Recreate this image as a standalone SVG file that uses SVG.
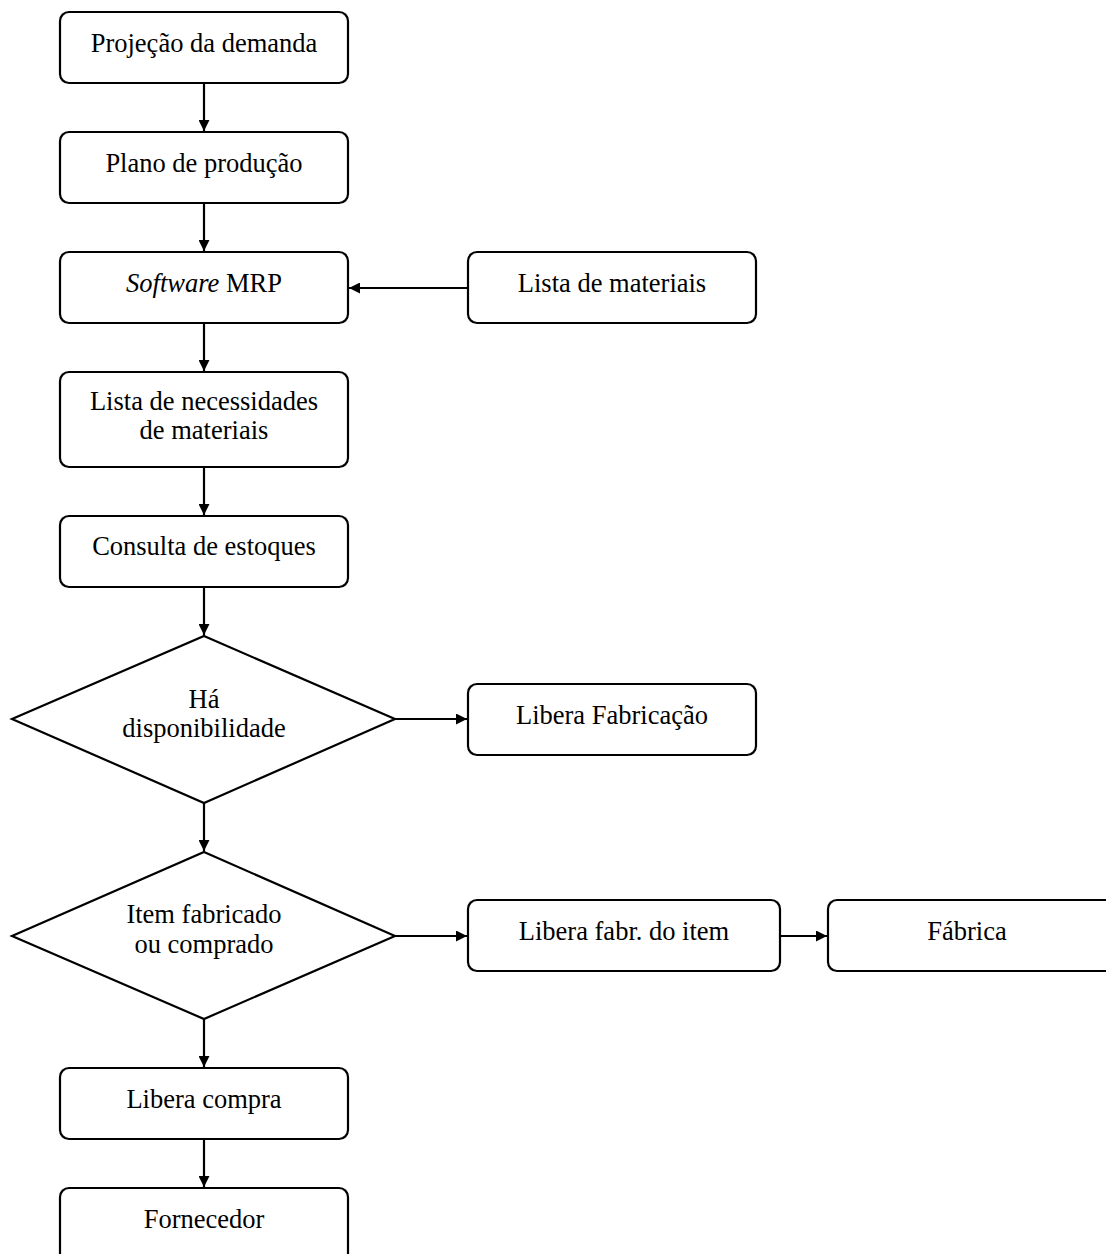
<svg xmlns="http://www.w3.org/2000/svg" width="1106" height="1254" viewBox="0 0 1106 1254">
  <style>
    .box { fill: #ffffff; stroke: #000000; stroke-width: 2.2; }
    .dia { fill: #ffffff; stroke: #000000; stroke-width: 2.2; stroke-linejoin: miter; }
    .lbl { font-family: "Liberation Serif", "Times New Roman", serif; font-size: 26.5px; fill: #000000; text-anchor: middle; }
    .edge { fill: none; stroke: #000000; stroke-width: 2.2; marker-end: url(#arrow); }
  </style>
  <defs>
    <marker id="arrow" viewBox="0 0 10 10" refX="10" refY="5" markerWidth="11" markerHeight="11" markerUnits="userSpaceOnUse" orient="auto">
      <path d="M0,0 L10,5 L0,10 z" fill="#000000"/>
    </marker>
  </defs>
  <rect width="1106" height="1254" fill="#ffffff"/>

  <g id="connectors">
    <line class="edge" x1="204" y1="83" x2="204" y2="131"/>
    <line class="edge" x1="204" y1="203" x2="204" y2="251"/>
    <line class="edge" x1="468" y1="288" x2="349" y2="288"/>
    <line class="edge" x1="204" y1="323" x2="204" y2="371"/>
    <line class="edge" x1="204" y1="467" x2="204" y2="515"/>
    <line class="edge" x1="204" y1="587" x2="204" y2="635"/>
    <line class="edge" x1="395" y1="719" x2="467" y2="719"/>
    <line class="edge" x1="204" y1="803" x2="204" y2="851"/>
    <line class="edge" x1="395" y1="936" x2="467" y2="936"/>
    <line class="edge" x1="780" y1="936" x2="827" y2="936"/>
    <line class="edge" x1="204" y1="1019" x2="204" y2="1067"/>
    <line class="edge" x1="204" y1="1139" x2="204" y2="1187"/>
  </g>

  <g id="projecao">
    <rect class="box" x="60" y="12" width="288" height="71" rx="9"/>
    <text class="lbl" x="204" y="52">Projeção da demanda</text>
  </g>
  <g id="plano">
    <rect class="box" x="60" y="132" width="288" height="71" rx="9"/>
    <text class="lbl" x="204" y="172">Plano de produção</text>
  </g>
  <g id="software">
    <rect class="box" x="60" y="252" width="288" height="71" rx="9"/>
    <text class="lbl" x="204" y="292"><tspan font-style="italic">Software</tspan> MRP</text>
  </g>
  <g id="lista-materiais">
    <rect class="box" x="468" y="252" width="288" height="71" rx="9"/>
    <text class="lbl" x="612" y="292">Lista de materiais</text>
  </g>
  <g id="lista-necessidades">
    <rect class="box" x="60" y="372" width="288" height="95" rx="9"/>
    <text class="lbl" x="204" y="410">Lista de necessidades</text>
    <text class="lbl" x="204" y="439">de materiais</text>
  </g>
  <g id="consulta">
    <rect class="box" x="60" y="516" width="288" height="71" rx="9"/>
    <text class="lbl" x="204" y="555">Consulta de estoques</text>
  </g>
  <g id="disponibilidade">
    <polygon class="dia" points="204,636 395,719 204,803 12,719"/>
    <text class="lbl" x="204" y="708">Há</text>
    <text class="lbl" x="204" y="737">disponibilidade</text>
  </g>
  <g id="libera-fabricacao">
    <rect class="box" x="468" y="684" width="288" height="71" rx="9"/>
    <text class="lbl" x="612" y="724">Libera Fabricação</text>
  </g>
  <g id="item">
    <polygon class="dia" points="204,852 395,936 204,1019 12,936"/>
    <text class="lbl" x="204" y="923">Item fabricado</text>
    <text class="lbl" x="204" y="953">ou comprado</text>
  </g>
  <g id="libera-fabr-item">
    <rect class="box" x="468" y="900" width="312" height="71" rx="9"/>
    <text class="lbl" x="624" y="940">Libera fabr. do item</text>
  </g>
  <g id="fabrica">
    <rect class="box" x="828" y="900" width="300" height="71" rx="9"/>
    <text class="lbl" x="967" y="940">Fábrica</text>
  </g>
  <g id="libera-compra">
    <rect class="box" x="60" y="1068" width="288" height="71" rx="9"/>
    <text class="lbl" x="204" y="1108">Libera compra</text>
  </g>
  <g id="fornecedor">
    <rect class="box" x="60" y="1188" width="288" height="80" rx="9"/>
    <text class="lbl" x="204" y="1228">Fornecedor</text>
  </g>
</svg>
